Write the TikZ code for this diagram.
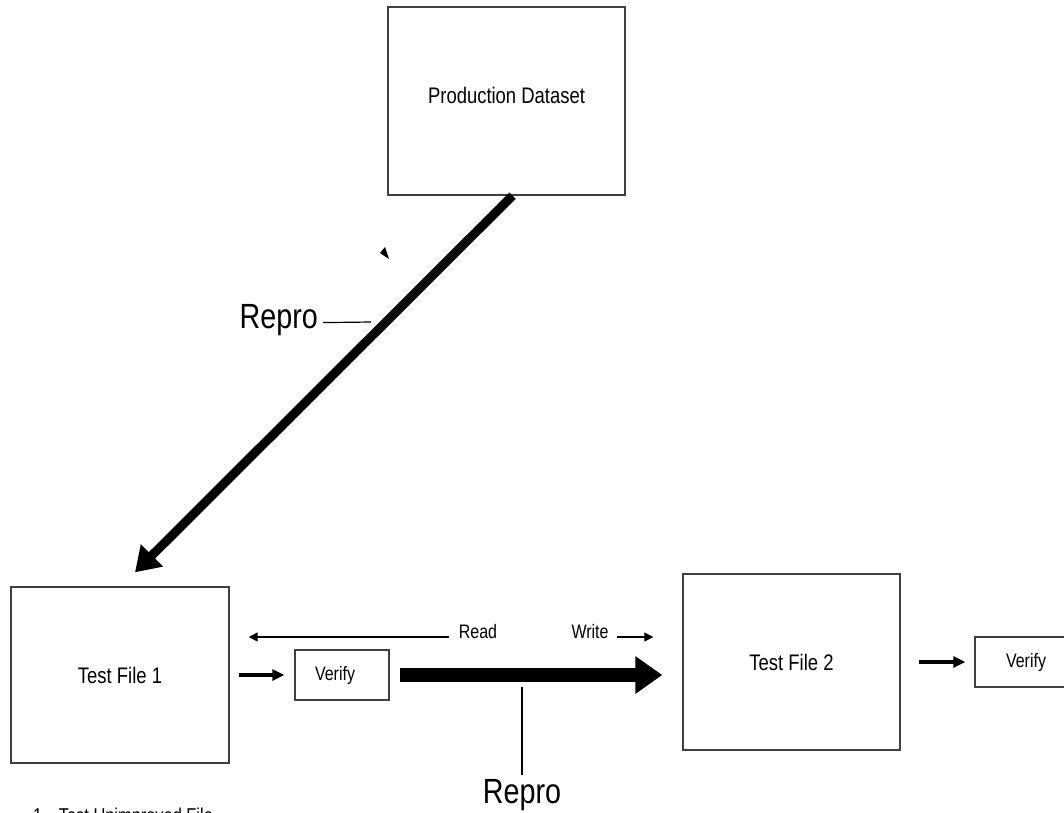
\documentclass[tikz,border=0pt]{standalone}
\usepackage{fontspec}
\setmainfont{Liberation Sans}[FakeStretch=0.82]
\usetikzlibrary{arrows.meta,calc}
\begin{document}
\begin{tikzpicture}[x=1pt,y=-1pt,
 box/.style={draw=black!75,line width=1.4pt,inner sep=0pt,text=black},
 lbl/.style={inner sep=0pt,text=black},
 diagarrow/.style={line width=9pt,-{Triangle[length=24pt,width=30pt]}},
 bigarrow/.style={line width=14pt,-{Triangle[length=27pt,width=36pt]}},
 midarrow/.style={line width=4pt,-{Triangle[length=12pt,width=11pt]}},
 thinarrow/.style={line width=1.3pt,-{Triangle[length=9pt,width=9pt]}},
 leader/.style={line width=1.2pt}]
\clip (0,0) rectangle (1064,812);
\fill[white] (0,0) rectangle (1064,812);
% boxes
\node[box,minimum width=237pt,minimum height=188pt] (pd) at (506.5,101) {\raisebox{-2pt}[0pt][0pt]{\fontsize{22.5}{26}\selectfont Production Dataset}};
\node[box,minimum width=218pt,minimum height=176pt] (tf1) at (120,675) {\fontsize{22.5}{26}\selectfont Test File 1};
\node[box,minimum width=94pt,minimum height=50pt] (v1) at (342,675) {\fontsize{19.5}{22}\selectfont Verify\kern14pt\relax};
\node[box,minimum width=217pt,minimum height=176pt] (tf2) at (791.5,662) {\fontsize{22.5}{26}\selectfont Test File 2};
\node[box,minimum width=116pt,minimum height=50pt] (v2) at (1033,662) {\fontsize{19.5}{22}\selectfont Verify\kern14pt\relax};
% labels
\node[lbl] (read) at (478,632) {\fontsize{19.5}{22}\selectfont Read};
\node[lbl] (write) at (590,632) {\fontsize{19.5}{22}\selectfont Write};
\node[lbl,anchor=base east] (repro1) at (318,328) {\fontsize{35}{40}\selectfont Repro};
\node[lbl,anchor=north] (repro2) at (522,779) {\fontsize{35}{40}\selectfont Repro};
\node[lbl,anchor=base west] (note) at (33,822) {\fontsize{20}{24}\selectfont 1.\hspace{12pt}Test Unimproved File};
\coordinate (r1end) at (371,322);
\coordinate (r2top) at (522,687);
% connectors
\draw[diagarrow] ([xshift=6pt]pd.south) -- ([xshift=15pt,yshift=14pt]tf1.north);
\draw[leader] ([xshift=5pt,yshift=-3pt]repro1.east) -- (r1end);
\fill (380,253) -- (385,247) -- (389,259) -- cycle;
\draw[thinarrow] ([xshift=-10pt,yshift=-5pt]read.west) -- ([xshift=19pt,yshift=-5pt]read.west -| tf1.east);
\draw[thinarrow] ([xshift=8pt,yshift=-5pt]write.east) -- ([xshift=-29pt,yshift=-5pt]write.east -| tf2.west);
\draw[midarrow] ([xshift=9pt]tf1.east) -- ([xshift=-10pt]v1.west);
\draw[bigarrow] ([xshift=10pt]v1.east) -- ([xshift=-20pt]v1.east -| tf2.west);
\draw[leader] ([yshift=4pt]repro2.north) -- (r2top);
\draw[midarrow] ([xshift=18pt]tf2.east) -- ([xshift=-9pt]v2.west);
\end{tikzpicture}
\end{document}
